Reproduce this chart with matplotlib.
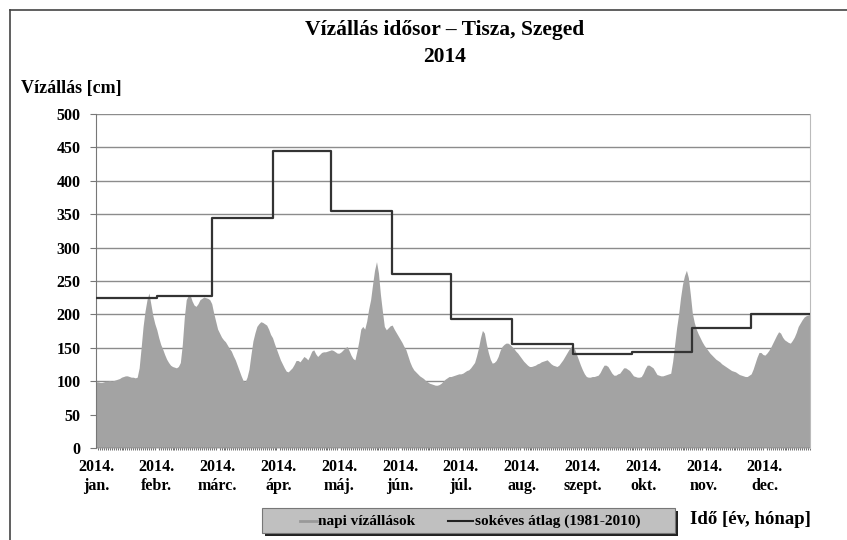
import matplotlib
matplotlib.use('Agg')
import matplotlib.pyplot as plt
from matplotlib.lines import Line2D
from matplotlib.patches import Rectangle
import numpy as np

# daily water levels [cm], one list per month
jan = [99, 99, 98, 98, 99, 100, 100, 101, 100, 101, 102, 103, 104, 106, 107, 108,
       108, 107, 106, 106, 105, 106, 120, 150, 182, 205, 222, 232, 215, 198, 186]
feb = [177, 165, 155, 148, 140, 133, 128, 124, 122, 121, 120, 122, 128, 155, 195, 222,
       228, 229, 220, 214, 212, 216, 222, 224, 226, 225, 224, 222]
mar = [216, 202, 190, 178, 172, 166, 162, 159, 154, 149, 145, 138, 132, 124, 116, 108,
       101, 99, 106, 118, 140, 160, 172, 182, 186, 189, 188, 186, 184, 178, 170]
apr = [165, 156, 148, 140, 132, 126, 120, 115, 114, 117, 120, 125, 131, 131, 129, 133,
       137, 135, 132, 138, 145, 147, 141, 137, 140, 143, 144, 144, 145, 146]
may = [147, 146, 144, 142, 142, 144, 147, 150, 152, 146, 139, 134, 132, 145, 160, 178,
       182, 178, 190, 208, 222, 245, 266, 279, 262, 230, 205, 182, 177, 180, 183]
jun = [184, 178, 173, 168, 163, 158, 152, 147, 138, 129, 122, 117, 114, 111, 108, 106,
       104, 101, 99, 97, 96, 95, 94, 94, 95, 97, 100, 103, 105, 107]
jul = [107, 108, 109, 110, 111, 111, 112, 114, 116, 117, 120, 124, 128, 138, 150, 165,
       176, 172, 156, 143, 133, 127, 128, 131, 137, 146, 152, 155, 157, 157, 155]
aug = [152, 149, 145, 142, 138, 134, 130, 127, 124, 122, 122, 123, 124, 126, 127, 129,
       130, 131, 132, 129, 126, 124, 123, 122, 124, 128, 132, 137, 142, 147, 151]
sep = [153, 148, 140, 132, 124, 117, 111, 107, 106, 106, 107, 107, 108, 109, 113, 119,
       124, 124, 122, 117, 112, 109, 109, 111, 112, 116, 120, 120, 118, 116]
okt = [112, 108, 107, 106, 106, 107, 112, 119, 124, 124, 122, 120, 115, 110, 109, 108,
       108, 109, 110, 111, 112, 130, 155, 180, 200, 225, 245, 258, 266, 255, 230]
nov = [202, 188, 178, 171, 165, 159, 154, 150, 146, 142, 139, 136, 133, 131, 129, 126,
       124, 122, 120, 118, 116, 115, 114, 112, 110, 109, 108, 107, 107, 109]
dec = [111, 118, 127, 136, 143, 143, 140, 139, 142, 146, 151, 157, 163, 169, 174, 172,
       166, 162, 160, 158, 157, 161, 166, 173, 182, 187, 192, 196, 198, 199, 200]

daily = jan + feb + mar + apr + may + jun + jul + aug + sep + okt + nov + dec

# long-term monthly means (1981-2010)
month_len = [31, 28, 31, 30, 31, 30, 31, 31, 30, 31, 30, 31]
month_avg = [224, 227, 344, 444, 355, 260, 193, 156, 141, 144, 180, 200]

month_names = ['jan.', 'febr.', 'márc.', 'ápr.', 'máj.', 'jún.',
               'júl.', 'aug.', 'szept.', 'okt.', 'nov.', 'dec.']
tick_labels = ['2014.\n' + m for m in month_names]
y_ticks = [0, 50, 100, 150, 200, 250, 300, 350, 400, 450, 500]

serif = ['Liberation Serif', 'DejaVu Serif']
plt.rcParams['font.family'] = serif
plt.rcParams['font.weight'] = 'bold'

W, H = 847, 540


def fx(px):
    # pixel column -> figure fraction
    return px / W


def fy(py):
    # pixel row (from top) -> figure fraction
    return 1 - py / H


days = np.arange(len(daily))
month_start = np.concatenate([[0], np.cumsum(month_len)])
step_x = list(month_start[:-1]) + [len(daily) - 1]
step_y = month_avg + [month_avg[-1]]

fig = plt.figure(figsize=(8.47, 5.4), dpi=100)
ax = fig.add_axes([fx(96), fy(448), fx(810) - fx(96), fy(114) - fy(448)])

ax.fill_between(days, 0, daily, color='#a3a3a3', lw=0, zorder=2)
ax.step(step_x, step_y, where='post', color='#333333', lw=1.6, zorder=3)

ax.set_xlim(0, len(daily) - 1)
ax.set_ylim(0, 500)
ax.set_yticks(y_ticks)
ax.set_yticklabels([str(v) for v in y_ticks], fontsize=11.5, fontweight='bold')
ax.yaxis.grid(True, color='#8c8c8c', lw=1.0, zorder=1)
ax.set_axisbelow(True)

# Excel-like axis: label every 31 days, small tick every day
ax.set_xticks(np.arange(0, 31 * 12, 31))
ax.set_xticklabels(tick_labels, fontsize=11.5, fontweight='bold', linespacing=1.25)
ax.set_xticks(days, minor=True)
ax.tick_params(axis='x', which='major', length=0, pad=8)
ax.tick_params(axis='x', which='minor', length=3, width=0.6, color='#555555',
               direction='inout')
ax.tick_params(axis='y', length=4, color='#777777', pad=7)

for side in ['top', 'bottom']:
    ax.spines[side].set_visible(False)
ax.spines['left'].set_color('#777777')
ax.spines['right'].set_color('#bbbbbb')
ax.spines['right'].set_linewidth(0.8)
ax.axhline(0, color='#666666', lw=1.0, zorder=4)

fig.text(fx(445), fy(30), 'Vízállás idősor – Tisza, Szeged', ha='center', va='center',
         fontsize=15.5, fontweight='bold')
fig.text(fx(445), fy(57), '2014', ha='center', va='center', fontsize=15.5,
         fontweight='bold')
fig.text(fx(21), fy(88), 'Vízállás [cm]', ha='left', va='center', fontsize=13,
         fontweight='bold')
fig.text(fx(811), fy(520), 'Idő [év, hónap]', ha='right', va='center', fontsize=13.5,
         fontweight='bold')

# legend box drawn by hand (Excel style: grey fill, dark shadow)
fig.add_artist(Rectangle((fx(265), fy(536)), fx(675) - fx(262), fy(508) - fy(533),
                         transform=fig.transFigure, facecolor='#222222',
                         edgecolor='none'))
fig.add_artist(Rectangle((fx(262), fy(533)), fx(675) - fx(262), fy(508) - fy(533),
                         transform=fig.transFigure, facecolor='#c0c0c0',
                         edgecolor='#777777', lw=0.8))
fig.add_artist(Line2D([fx(300), fx(317)], [fy(521), fy(521)],
                      transform=fig.transFigure, color='#999999', lw=2))
fig.text(fx(318), fy(521), 'napi vízállások', ha='left', va='center', fontsize=11,
         fontweight='bold')
fig.add_artist(Line2D([fx(448), fx(473)], [fy(521), fy(521)],
                      transform=fig.transFigure, color='#222222', lw=1.5))
fig.text(fx(475), fy(521), 'sokéves átlag (1981-2010)', ha='left', va='center',
         fontsize=11, fontweight='bold')

# outer frame of the picture
fig.add_artist(Line2D([fx(10), 1.0], [fy(10), fy(10)],
                      transform=fig.transFigure, color='#444444', lw=1.2))
fig.add_artist(Line2D([fx(10), fx(10)], [fy(10), 0.0],
                      transform=fig.transFigure, color='#444444', lw=1.2))

fig.savefig('out.png', dpi=100)
